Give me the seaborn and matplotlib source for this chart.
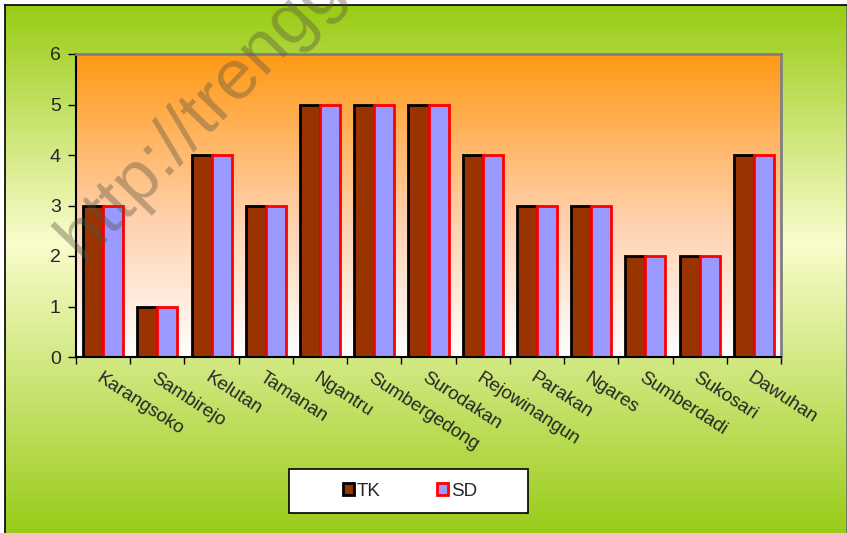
import numpy as np
import pandas as pd
import matplotlib
matplotlib.use("Agg")
import matplotlib.pyplot as plt
from matplotlib.patches import Patch, Rectangle
from matplotlib.colors import LinearSegmentedColormap
import seaborn as sns

categories = ["Karangsoko", "Sambirejo", "Kelutan", "Tamanan", "Ngantru",
              "Sumbergedong", "Surodakan", "Rejowinangun", "Parakan", "Ngares",
              "Sumberdadi", "Sukosari", "Dawuhan"]
tk_values = [3, 1, 4, 3, 5, 5, 5, 4, 3, 3, 2, 2, 4]
sd_values = [3, 1, 4, 3, 5, 5, 5, 4, 3, 3, 2, 2, 4]
series_names = ["TK", "SD"]
y_ticks = [0, 1, 2, 3, 4, 5, 6]

df = pd.DataFrame({
    "Desa": categories * 2,
    "Jumlah": tk_values + sd_values,
    "Jenjang": ["TK"] * len(categories) + ["SD"] * len(categories),
})

sns.set_style("white")
plt.rcParams["font.family"] = ["Liberation Sans", "DejaVu Sans"]

W, H = 847, 533
fig = plt.figure(figsize=(W / 100, H / 100), dpi=100)
fig.patch.set_facecolor("white")

# figure background gradient (green - pale yellow - green)
bg = fig.add_axes([5 / W, 0, 1 - 5 / W, 1 - 5 / H], zorder=-10)
bg_cmap = LinearSegmentedColormap.from_list(
    "bg", [(0.0, (0.60, 0.80, 0.08)), (0.45, (0.98, 0.99, 0.80)), (1.0, (0.60, 0.80, 0.10))])
grad = np.linspace(0, 1, 256).reshape(-1, 1)
bg.imshow(grad, cmap=bg_cmap, aspect="auto", extent=[0, 1, 0, 1], origin="upper")
bg.set_xticks([]); bg.set_yticks([])
bg.spines["left"].set_color("black"); bg.spines["left"].set_linewidth(1.2)
bg.spines["top"].set_color("black"); bg.spines["top"].set_linewidth(1.2)
bg.spines["right"].set_color("#707070"); bg.spines["right"].set_linewidth(1.2)
bg.spines["bottom"].set_visible(False)

ax = fig.add_axes([76 / W, 1 - 357 / H, (781 - 76) / W, (357 - 54) / H])
ax.patch.set_alpha(0)
ax_cmap = LinearSegmentedColormap.from_list(
    "plot", [(0.0, (1.0, 0.60, 0.08)), (0.55, (1.0, 0.82, 0.68)), (1.0, (1.0, 1.0, 1.0))])
ax.imshow(grad, cmap=ax_cmap, aspect="auto", extent=[0, 1, 0, 1],
          transform=ax.transAxes, origin="upper", zorder=0)

palette = {"TK": "#993300", "SD": "#9999ff"}
edges = {"TK": "black", "SD": "red"}
sns.barplot(data=df, x="Desa", y="Jumlah", hue="Jenjang", hue_order=series_names,
            order=categories, palette=palette, saturation=1, width=0.74, errorbar=None,
            legend=False, ax=ax, zorder=2)
for cont, name in zip(ax.containers, series_names):
    for bar in cont:
        bar.set_edgecolor(edges[name])
        bar.set_linewidth(2)

ax.set_xlim(-0.5, len(categories) - 0.5)
ax.set_ylim(0, 6)
ax.set_yticks(y_ticks)
ax.set_yticklabels([str(v) for v in y_ticks], fontsize=14)
ax.set_xticks(np.arange(-0.5, len(categories), 1))
ax.set_xticklabels([])
ax.set_xticks(np.arange(len(categories)), minor=True)
ax.set_xticklabels(categories, minor=True, fontsize=13.5, rotation=-33,
                   ha="left", va="top", rotation_mode="anchor")
ax.tick_params(axis="x", which="major", direction="out", length=5, width=1, color="black", bottom=True)
ax.tick_params(axis="x", which="minor", length=0, pad=9)
ax.tick_params(axis="y", direction="out", length=6, width=1, color="black", left=True, pad=5)
ax.set_xlabel("")
ax.set_ylabel("")
for s in ["left", "bottom"]:
    ax.spines[s].set_color("black"); ax.spines[s].set_linewidth(1.5)
for s in ["top", "right"]:
    ax.spines[s].set_color("#808080"); ax.spines[s].set_linewidth(2)

# legend box
fig.patches.append(Rectangle((289 / W, 1 - 513 / H), (528 - 289) / W, (513 - 469) / H,
                             transform=fig.transFigure, facecolor="white",
                             edgecolor="black", linewidth=1.2, zorder=5))
handles = [Patch(facecolor=palette[n], edgecolor=edges[n], linewidth=2) for n in series_names]
leg = fig.legend(handles, series_names, loc="center", bbox_to_anchor=(410 / W, 1 - 491 / H),
                 ncol=2, frameon=False, fontsize=13.5, handlelength=0.6, handleheight=0.6,
                 handletextpad=0.15, columnspacing=3.0)
leg.set_zorder(6)

# watermark
fig.text(82 / W, 1 - 262 / H, "http://trenggalekkab.go.id", rotation=46,
         rotation_mode="anchor", ha="left", va="baseline", fontsize=51,
         color=(0.35, 0.33, 0.25), alpha=0.4, zorder=20)

fig.savefig("out.png", dpi=100)
